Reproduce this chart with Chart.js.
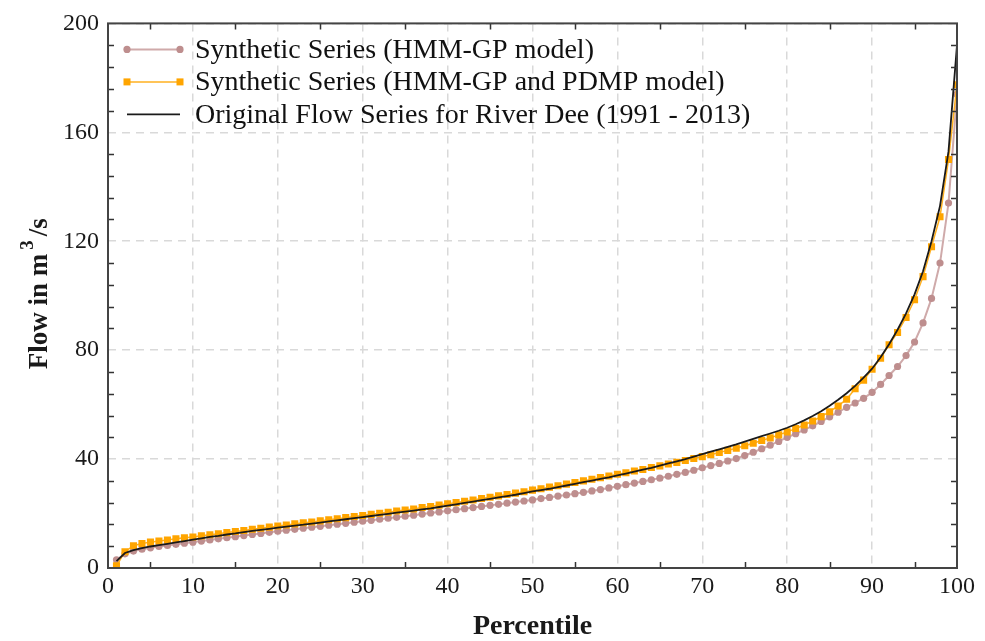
<!DOCTYPE html>
<html>
<head>
<meta charset="utf-8">
<script src="https://cdn.jsdelivr.net/npm/chart.js@4.4.1/dist/chart.umd.min.js"></script>
<style>
  html, body { margin: 0; padding: 0; background: #fff; }
  #wrap { width: 985px; height: 641px; }
</style>
</head>
<body>
<div id="wrap"><canvas id="flowChart" width="985" height="641"></canvas></div>
<script>
// Percentile (x) 1..100
const percentiles = [];
for (let p = 1; p <= 100; p++) percentiles.push(p);

// Synthetic Series (HMM-GP model)
const hmmGp = [
  3.0, 5.2, 6.2, 6.9, 7.4, 7.9, 8.3, 8.7, 9.1, 9.5,
  9.9, 10.3, 10.7, 11.1, 11.5, 11.9, 12.3, 12.7, 13.1, 13.5,
  13.9, 14.2, 14.6, 15.0, 15.3, 15.7, 16.1, 16.4, 16.8, 17.2,
  17.5, 17.9, 18.3, 18.6, 19.0, 19.4, 19.8, 20.2, 20.6, 21.0,
  21.4, 21.8, 22.2, 22.6, 23.0, 23.4, 23.8, 24.2, 24.6, 25.0,
  25.5, 25.9, 26.4, 26.8, 27.3, 27.8, 28.3, 28.8, 29.4, 30.0,
  30.6, 31.2, 31.8, 32.4, 33.0, 33.7, 34.4, 35.1, 35.9, 36.8,
  37.6, 38.4, 39.3, 40.2, 41.3, 42.5, 43.8, 45.1, 46.5, 48.0,
  49.3, 50.7, 52.2, 53.8, 55.5, 57.2, 59.0, 60.6, 62.3, 64.5,
  67.4, 70.7, 74.0, 78.0, 83.0, 90.0, 99.0, 112.0, 134.0, 174.0
];

// Synthetic Series (HMM-GP and PDMP model)
const hmmGpPdmp = [
  0.8, 6.0, 8.2, 9.0, 9.5, 9.9, 10.3, 10.7, 11.1, 11.4,
  11.8, 12.2, 12.6, 13.0, 13.4, 13.8, 14.2, 14.6, 15.0, 15.4,
  15.8, 16.2, 16.6, 16.9, 17.3, 17.7, 18.1, 18.5, 18.9, 19.3,
  19.7, 20.1, 20.5, 20.9, 21.3, 21.7, 22.2, 22.6, 23.1, 23.6,
  24.0, 24.5, 25.0, 25.5, 26.0, 26.5, 27.0, 27.5, 28.0, 28.6,
  29.1, 29.7, 30.2, 30.8, 31.4, 32.0, 32.6, 33.2, 33.8, 34.4,
  35.0, 35.6, 36.2, 36.9, 37.5, 38.2, 38.8, 39.5, 40.2, 40.9,
  41.6, 42.4, 43.2, 44.0, 44.9, 45.8, 46.8, 47.8, 48.9, 50.0,
  51.2, 52.5, 54.0, 55.6, 57.4, 59.5, 62.0, 65.8, 69.0, 73.0,
  77.0, 82.0, 86.5, 92.0, 98.5, 107.0, 118.0, 129.0, 150.0, 177.5
];

// Original Flow Series for River Dee (1991 - 2013)
const original = [
  2.5, 5.5, 6.6, 7.3, 7.9, 8.4, 8.9, 9.4, 9.9, 10.4,
  10.9, 11.4, 11.8, 12.3, 12.7, 13.2, 13.6, 14.0, 14.4, 14.8,
  15.2, 15.6, 15.9, 16.3, 16.7, 17.1, 17.5, 17.9, 18.3, 18.7,
  19.1, 19.5, 19.9, 20.3, 20.7, 21.1, 21.5, 21.9, 22.4, 22.9,
  23.4, 23.9, 24.4, 24.9, 25.4, 25.9, 26.4, 26.9, 27.5, 28.1,
  28.6, 29.1, 29.7, 30.3, 30.9, 31.5, 32.1, 32.7, 33.3, 34.0,
  34.7, 35.4, 36.1, 36.8, 37.6, 38.4, 39.2, 40.0, 40.9, 41.8,
  42.7, 43.6, 44.5, 45.4, 46.4, 47.4, 48.4, 49.4, 50.4, 51.5,
  52.8, 54.2, 55.8, 57.6, 59.6, 61.8, 64.2, 66.9, 69.9, 73.2,
  77.4, 82.2, 87.5, 93.5, 100.5, 109.0, 120.0, 133.0, 153.0, 192.0
];

const seriesLabels = [
  "Synthetic Series (HMM-GP model)",
  "Synthetic Series (HMM-GP and PDMP model)",
  "Original Flow Series for River Dee (1991 - 2013)"
];

const xTicks = [0, 10, 20, 30, 40, 50, 60, 70, 80, 90, 100];
const yTicks = [0, 40, 80, 120, 160, 200];

const serif = "'Liberation Serif', 'Times New Roman', serif";
const toPoints = (vals) => vals.map((v, i) => ({ x: percentiles[i], y: v }));

// frame, inward minor ticks, y title with superscript, legend inside the plot
const framePlugin = {
  id: "frame",
  afterDraw(chart) {
    const { ctx, chartArea: a, scales } = chart;
    const xs = scales.x, ys = scales.y;
    ctx.save();
    ctx.setLineDash([]);
    ctx.strokeStyle = "#333";
    ctx.lineWidth = 1.5;
    // inward ticks on x (top and bottom)
    for (let v = 5; v < 100; v += 10) {
      const px = Math.round(xs.getPixelForValue(v)) + 0.5;
      ctx.beginPath();
      ctx.moveTo(px, a.bottom); ctx.lineTo(px, a.bottom - 6);
      ctx.moveTo(px, a.top); ctx.lineTo(px, a.top + 6);
      ctx.stroke();
    }
    // inward ticks on y (left and right)
    for (let v = 8; v < 200; v += 8) {
      if (v % 40 === 0) continue;
      const py = Math.round(ys.getPixelForValue(v)) + 0.5;
      ctx.beginPath();
      ctx.moveTo(a.left, py); ctx.lineTo(a.left + 6, py);
      ctx.moveTo(a.right, py); ctx.lineTo(a.right - 6, py);
      ctx.stroke();
    }
    ctx.strokeStyle = "#444";
    ctx.lineWidth = 2;
    ctx.strokeRect(a.left, a.top, a.right - a.left, a.bottom - a.top);

    // y axis title: Flow in m^3/s
    const big = "bold 27px " + serif, small = "bold 19px " + serif;
    ctx.font = big;
    const w1 = ctx.measureText("Flow in m").width;
    const w3 = ctx.measureText("/s").width;
    ctx.font = small;
    const w2 = ctx.measureText("3").width;
    const total = w1 + 4 + w2 + 4 + w3;
    ctx.translate(38, (a.top + a.bottom) / 2 - 2);
    ctx.rotate(-Math.PI / 2);
    ctx.fillStyle = "#1a1a1a";
    ctx.textBaseline = "alphabetic";
    ctx.textAlign = "left";
    let tx = -total / 2;
    ctx.font = big;
    ctx.fillText("Flow in m", tx, 9);
    tx += w1 + 4;
    ctx.font = small;
    ctx.fillText("3", tx, -5);
    tx += w2 + 4;
    ctx.font = big;
    ctx.fillText("/s", tx, 9);
    ctx.setTransform(1, 0, 0, 1, 0, 0);

    // legend
    const lx = a.left + 19, ly = a.top + 26, gap = 32.5;
    chart.data.datasets.forEach((ds, i) => {
      const y = ly + i * gap;
      ctx.strokeStyle = ds.borderColor;
      ctx.lineWidth = ds.borderWidth;
      ctx.beginPath();
      ctx.moveTo(lx, y); ctx.lineTo(lx + 53, y);
      ctx.stroke();
      if (ds.pointRadius > 0) {
        ctx.fillStyle = ds.pointBackgroundColor;
        [lx, lx + 53].forEach(px => {
          if (ds.pointStyle === "rect") {
            ctx.fillRect(px - 3.5, y - 3.5, 7, 7);
          } else {
            ctx.beginPath();
            ctx.arc(px, y, 3.6, 0, Math.PI * 2);
            ctx.fill();
          }
        });
      }
      ctx.fillStyle = "#111";
      ctx.font = "28px " + serif;
      ctx.textBaseline = "middle";
      ctx.textAlign = "left";
      ctx.fillText(ds.label, lx + 68, y + 1);
    });
    ctx.restore();
  }
};

const ctx = document.getElementById("flowChart").getContext("2d");

new Chart(ctx, {
  type: "line",
  data: {
    datasets: [
      {
        label: seriesLabels[0],
        data: toPoints(hmmGp),
        borderColor: "#cfaaaa",
        borderWidth: 2,
        pointRadius: 3.6,
        pointStyle: "circle",
        pointBackgroundColor: "#be8e8e",
        pointBorderWidth: 0,
        order: 3
      },
      {
        label: seriesLabels[1],
        data: toPoints(hmmGpPdmp),
        borderColor: "#ffb020",
        borderWidth: 1.5,
        pointRadius: 5,
        pointStyle: "rect",
        pointBackgroundColor: "#ffa500",
        pointBorderWidth: 0,
        order: 2
      },
      {
        label: seriesLabels[2],
        data: toPoints(original),
        borderColor: "#1a1a1a",
        borderWidth: 1.8,
        pointRadius: 0,
        order: 1
      }
    ]
  },
  options: {
    responsive: false,
    animation: false,
    layout: { padding: { top: 22, right: 28, left: 0, bottom: 0 } },
    plugins: {
      legend: { display: false },
      tooltip: { enabled: false }
    },
    scales: {
      x: {
        type: "linear",
        min: 0,
        max: 100,
        afterBuildTicks: (s) => { s.ticks = xTicks.map(v => ({ value: v })); },
        afterFit: (s) => { s.height = 73; },
        ticks: { font: { family: serif, size: 24 }, color: "#1a1a1a", padding: 4, maxRotation: 0 },
        grid: { color: "#d9d9d9", lineWidth: 1.5, drawTicks: false },
        border: { display: false, dash: [8, 6] },
        title: {
          display: true,
          text: "Percentile",
          font: { family: serif, size: 28, weight: "bold", lineHeight: 1 },
          color: "#1a1a1a",
          padding: { top: 0, bottom: 0 }
        }
      },
      y: {
        min: 0,
        max: 200,
        afterBuildTicks: (s) => { s.ticks = yTicks.map(v => ({ value: v })); },
        afterFit: (s) => { s.width = 108; },
        ticks: { font: { family: serif, size: 24 }, color: "#1a1a1a", padding: 9 },
        grid: { color: "#d9d9d9", lineWidth: 1.5, drawTicks: false },
        border: { display: false, dash: [8, 6] },
        title: { display: false }
      }
    }
  },
  plugins: [framePlugin]
});
</script>
</body>
</html>
